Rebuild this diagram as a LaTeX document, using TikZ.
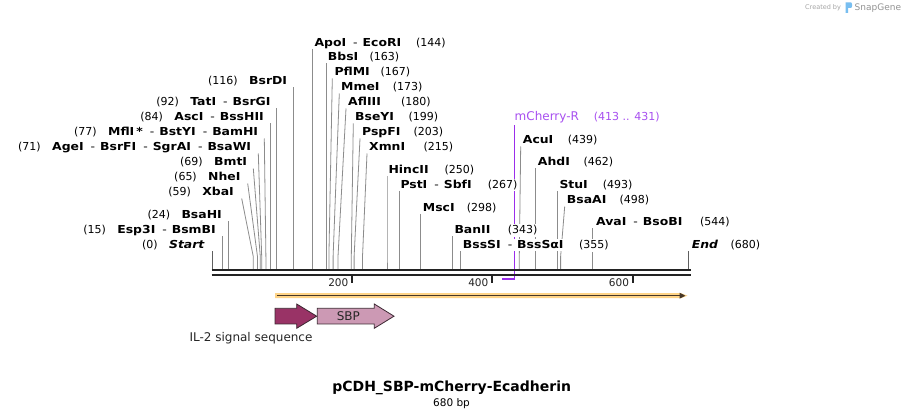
\documentclass[tikz,border=0pt]{standalone}
\usepackage{fontspec}
\setmainfont{DejaVu Sans}
\newfontfamily\bw{DejaVu Sans}[FakeStretch=1.13]
\usetikzlibrary{arrows.meta}
\pgfdeclarelayer{bg}
\pgfsetlayers{bg,main}
\definecolor{siteln}{RGB}{140,140,140}
\definecolor{endln}{RGB}{95,95,95}
\definecolor{axisc}{RGB}{35,35,35}
\definecolor{primer}{RGB}{155,45,235}
\definecolor{primertxt}{RGB}{168,80,240}
\definecolor{orangef}{RGB}{255,212,135}
\definecolor{orangeln}{RGB}{70,55,40}
\definecolor{ildark}{RGB}{153,51,102}
\definecolor{sbpc}{RGB}{204,153,180}
\definecolor{featedge}{RGB}{60,40,50}
\definecolor{logogray}{RGB}{165,165,165}
\definecolor{logoblue}{RGB}{120,190,240}
\newcommand\sep{\hspace{7pt}{\mdseries -}\hspace{5pt}}
\tikzset{
  lab/.style={inner xsep=1pt, inner ysep=1.5pt, fill=white, font=\fontsize{11}{13}\selectfont},
  lname/.style={lab, font=\bw\fontsize{11}{13}\selectfont\bfseries, anchor=base east},
  lnum/.style={lab, anchor=base east},
  rname/.style={lab, font=\bw\fontsize{11}{13}\selectfont\bfseries, anchor=base west},
  rnum/.style={lab, anchor=base west},
  site/.style={draw=siteln, line width=0.8pt},
  endsite/.style={draw=endln, line width=0.9pt},
  featlab/.style={inner sep=0pt, font=\fontsize{12}{14}\selectfont},
}
% #1 id, #2 name, #3 number, #4 label end x, #5 y, #6 site x, #7 line start x
\newcommand\Lsite[7]{%
  \node[lname] (#1) at (#4,#5+4) {#2};
  \node[lnum] (#1n) at ([xshift=-9pt]#1.base west) {(#3)};
  \coordinate (#1t) at (#7,#5+6.5);
  \coordinate (#1k) at (#6,256.7);
  \coordinate (#1a) at (#6,269.2);
  \begin{pgfonlayer}{bg}\draw[site] (#1t) -- (#1k) -- (#1a);\end{pgfonlayer}
}
% #1 id, #2 name, #3 number, #4 label start x, #5 y, #6 site x, #7 line start x, #8 number x
\newcommand\Rsite[8]{%
  \node[rname] (#1) at (#4,#5+4) {#2};
  \node[rnum] (#1n) at (#8,#5+4) {(#3)};
  \coordinate (#1t) at (#7,#5+6.5);
  \coordinate (#1k) at (#6,256.7);
  \coordinate (#1a) at (#6,269.2);
  \begin{pgfonlayer}{bg}\draw[site] (#1t) -- (#1k) -- (#1a);\end{pgfonlayer}
}
\begin{document}
\begin{tikzpicture}[x=1pt,y=-1pt]
\useasboundingbox (0,0) rectangle (903,419);
\begin{pgfonlayer}{bg}\fill[white] (0,0) rectangle (903,419);\end{pgfonlayer}

% ---- left group
\Lsite{bsrdi}{BsrDI}{116}{288.3}{81}{293.2}{293.2}
\Lsite{tati}{TatI\sep BsrGI}{92}{271.7}{102}{276.4}{276.4}
\Lsite{asci}{AscI\sep BssHII}{84}{265}{117}{270.8}{270.8}
\Lsite{mfli}{MflI\hspace{2pt}*\sep BstYI\sep BamHI}{77}{259.3}{132}{265.9}{264.3}
\Lsite{agei}{AgeI\sep BsrFI\sep SgrAI\sep BsaWI}{71}{252.3}{147}{261.7}{258.3}
\Lsite{bmti}{BmtI}{69}{248.3}{162}{260.3}{253.3}
\Lsite{nhei}{NheI}{65}{241.7}{177}{257.5}{247.7}
\Lsite{xbai}{XbaI}{59}{235}{192}{253.3}{241.7}
\Lsite{bsahi}{BsaHI}{24}{223}{215}{228.8}{228.8}
\Lsite{esp3i}{Esp3I\sep BsmBI}{15}{217}{230}{222.5}{222.5}
\node[lname] (start) at (206,249) {\textit{Start}};
\node[lnum] (startn) at ([xshift=-9pt]start.base west) {(0)};
\coordinate (startt) at (212,251.5);
\coordinate (starta) at (212,269.2);
\begin{pgfonlayer}{bg}\draw[endsite] (startt) -- (starta);\end{pgfonlayer}

% ---- middle group
\Rsite{apoi}{ApoI\sep EcoRI}{144}{313.3}{42.5}{312.8}{312.8}{415}
\Rsite{bbsi}{BbsI}{163}{326.7}{57}{326.1}{326.1}{368.3}
\Rsite{pflmi}{PflMI}{167}{333.3}{72}{328.9}{332.3}{379.3}
\Rsite{mmei}{MmeI}{173}{340}{87}{333.1}{339.3}{391.7}
\Rsite{afliii}{AflIII}{180}{347}{102}{338}{346}{400}
\Rsite{bseyi}{BseYI}{199}{354}{117}{351.3}{353.3}{407.3}
\Rsite{pspfi}{PspFI}{203}{361}{132}{354.1}{360}{412.3}
\Rsite{xmni}{XmnI}{215}{368}{147}{362.5}{367}{422.3}

% ---- right group
\Rsite{hincii}{HincII}{250}{387.3}{170}{387}{387}{443.3}
\Rsite{psti}{PstI\sep SbfI}{267}{399.3}{184.5}{398.9}{398.9}{486.7}
\Rsite{msci}{MscI}{298}{421.7}{207.5}{420.6}{420.6}{465.7}
\Rsite{banii}{BanII}{343}{453.3}{230}{452.1}{452.1}{506.7}
\Rsite{bsssi}{BssSI\sep BssSαI}{355}{461.7}{245}{460.5}{460.5}{578}
\Rsite{acui}{AcuI}{439}{521.7}{140}{519.3}{520.7}{566.7}
\Rsite{ahdi}{AhdI}{462}{536.7}{162}{535.4}{535.4}{582.3}
\Rsite{stui}{StuI}{493}{558.3}{185}{557.1}{557.1}{601.7}
\Rsite{bsaai}{BsaAI}{498}{565.7}{200}{560.6}{564.7}{618.3}
\Rsite{avai}{AvaI\sep BsoBI}{544}{595}{222}{592.8}{592.8}{699}
\node[rname] (end) at (690.7,249) {\textit{End}};
\node[rnum] (endn) at (729.3,249) {(680)};
\coordinate (endt) at (688,251.5);
\coordinate (enda) at (688,269.2);
\begin{pgfonlayer}{bg}\draw[endsite] (endt) -- (enda);\end{pgfonlayer}

% ---- primer mCherry-R
\node[lab, anchor=base west, text=primertxt, font=\fontsize{12}{14}\selectfont] (mch) at (513.5,120.8) {mCherry-R};
\node[lab, anchor=base west, text=primertxt] (mchn) at (592.7,120.5) {(413 .. 431)};
\coordinate (mtop) at (514.3,123.5);
\coordinate (mcorner) at (514.3,279);
\coordinate (mend) at (502.3,279);
\begin{pgfonlayer}{bg}
\draw[primer, line width=1.5pt] (mtop) -- (mcorner) -- (mend);
\end{pgfonlayer}

% ---- axis
\draw[axisc, line width=2pt] (211.7,270.2) -- (691,270.2);
\draw[axisc, line width=2pt] (211.7,274.6) -- (691,274.6);
\foreach \v/\xx in {200/352,400/492,600/632.7}{
  \draw[axisc, line width=1.6pt] (\xx,275.5) -- (\xx,282.8);
  \node[inner sep=0pt, anchor=base east, font=\fontsize{10.5}{12}\selectfont, text=axisc] (tick\v) at (\xx-3.5,286.2) {\v};
}

% ---- features
\fill[orangef] (275,293.2) -- (681,293.2) -- (687.5,295.7) -- (681,298.2) -- (275,298.2) -- cycle;
\draw[orangeln, line width=1.4pt, -{Triangle[length=6pt,width=5.5pt]}] (276.5,295.7) -- (685.5,295.7);

\draw[featedge, line width=0.8pt, fill=ildark] (275,308.3) -- (296.7,308.3) -- (296.7,304) -- (316.7,316.2) -- (296.7,328.3) -- (296.7,324) -- (275,324) -- cycle;
\draw[featedge, line width=0.8pt, fill=sbpc] (317.3,308.3) -- (374.3,308.3) -- (374.3,304) -- (394,316.2) -- (374.3,328.3) -- (374.3,324) -- (317.3,324) -- cycle;
\node[featlab, text=black!85] (sbp) at (348.3,316) {SBP};
\node[featlab, text=black!85] (il2) at (251,338.3) {IL-2 signal sequence};

% ---- title
\node[inner sep=0pt, font=\fontsize{14}{16}\selectfont\bfseries] (title) at (451.7,388) {pCDH\_SBP-mCherry-Ecadherin};
\node[inner sep=0pt, font=\fontsize{10.5}{12}\selectfont] (bp) at (451.5,403.3) {680 bp};

% ---- logo
\node[inner sep=0pt, anchor=base west, font=\fontsize{6.5}{8}\selectfont, text=logogray] (created) at (805,9.5) {Created by};
\fill[logoblue] (845.5,2.5) rectangle (848,13) (848,2.5) -- (851,2.5) .. controls (852.5,2.5) and (852.5,8) .. (851,8) -- (848,8) -- cycle;
\node[inner sep=0pt, anchor=base west, font=\fontsize{9}{10}\selectfont, text=logogray!90!black] (snap) at (854.5,10.5) {SnapGene};
\end{tikzpicture}
\end{document}
